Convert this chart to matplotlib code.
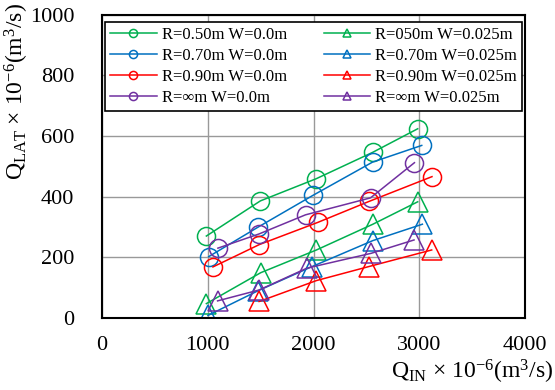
import matplotlib
matplotlib.use("Agg")
import matplotlib.pyplot as plt

# フォント設定 (Times 系)
plt.rcParams['font.family'] = ['Liberation Serif', 'DejaVu Serif']
plt.rcParams['mathtext.fontset'] = 'custom'
plt.rcParams['mathtext.rm'] = 'Liberation Serif'
plt.rcParams['mathtext.it'] = 'Liberation Serif'
plt.rcParams['mathtext.default'] = 'regular'

# データ: W=0.0m (円)
x_r050_w0 = [986, 1497, 2024, 2558, 2985]
y_r050_w0 = [270, 386, 459, 546, 624]
x_r070_w0 = [1008, 1478, 1993, 2558, 3023]
y_r070_w0 = [202, 300, 404, 514, 569]
x_r090_w0 = [1048, 1488, 2040, 2523, 3120]
y_r090_w0 = [168, 242, 315, 384, 466]
x_rinf_w0 = [1095, 1485, 1924, 2539, 2954]
y_rinf_w0 = [230, 277, 340, 396, 512]

# データ: W=0.025m (三角)
x_r050_w25 = [986, 1500, 2027, 2561, 2985]
y_r050_w25 = [47, 149, 224, 309, 383]
x_r070_w25 = [1001, 1478, 1984, 2561, 3029]
y_r070_w25 = [8, 90, 169, 255, 309]
x_r090_w25 = [1485, 2027, 2520, 3117]
y_r090_w25 = [54, 123, 169, 224]
x_rinf_w25 = [1092, 1485, 1937, 2545, 2950]
y_rinf_w25 = [56, 92, 164, 213, 257]

labels_w0 = ["R=0.50m W=0.0m", "R=0.70m W=0.0m", "R=0.90m W=0.0m", "R=∞m W=0.0m"]
labels_w25 = ["R=050m W=0.025m", "R=0.70m W=0.025m", "R=0.90m W=0.025m", "R=∞m W=0.025m"]

colors = ["#00B050", "#0070C0", "#FF0000", "#7030A0"]

fig = plt.figure(figsize=(5.55, 3.9), dpi=100)
ax = fig.add_axes([0.184, 0.185, 0.762, 0.777])

series_w0 = [(x_r050_w0, y_r050_w0), (x_r070_w0, y_r070_w0),
             (x_r090_w0, y_r090_w0), (x_rinf_w0, y_rinf_w0)]
series_w25 = [(x_r050_w25, y_r050_w25), (x_r070_w25, y_r070_w25),
              (x_r090_w25, y_r090_w25), (x_rinf_w25, y_rinf_w25)]

handles = []
for i in range(4):
    h, = ax.plot(series_w0[i][0], series_w0[i][1], color=colors[i],
                 marker='o', markersize=13, markerfacecolor='none',
                 markeredgewidth=1.1, linewidth=1.1, label=labels_w0[i])
    handles.append(h)
for i in range(4):
    h, = ax.plot(series_w25[i][0], series_w25[i][1], color=colors[i],
                 marker='^', markersize=14, markerfacecolor='none',
                 markeredgewidth=1.1, linewidth=1.1, label=labels_w25[i])
    handles.append(h)

# 軸
ax.set_xlim(0, 4000)
ax.set_ylim(0, 1000)
ax.set_xticks([0, 1000, 2000, 3000, 4000])
ax.set_yticks([0, 200, 400, 600, 800, 1000])
ax.tick_params(axis='both', length=0, labelsize=16)
ax.tick_params(axis='x', pad=13)
ax.tick_params(axis='y', pad=20)
ax.grid(True, color='#999999', linewidth=1.0)
ax.set_axisbelow(True)
for s in ax.spines.values():
    s.set_color('black')
    s.set_linewidth(1.5)

# 凡例
leg = ax.legend(handles=handles, loc='upper left', ncol=2, mode='expand',
                bbox_to_anchor=(0.007, 0.673, 0.986, 0.304),
                fontsize=12, markerscale=0.45, handlelength=2.8,
                labelspacing=0.3, borderaxespad=0, fancybox=False,
                framealpha=1, edgecolor='black', columnspacing=1.0,
                handletextpad=0.3, borderpad=0.3)
leg.get_frame().set_linewidth(1.2)

# 軸ラベル
fig.text(553 / 555, 1 - 379 / 390, r'$Q_{IN}$' + ' × ' + r'$10^{-6}(m^{3}/s)$',
         ha='right', va='baseline', fontsize=17)
fig.text(17 / 555, 1 - 3 / 390, r'$Q_{LAT}$' + ' × ' + r'$10^{-6}(m^{3}/s)$',
         ha='center', va='top', rotation=90, fontsize=17)

fig.savefig("out.png", dpi=100)
